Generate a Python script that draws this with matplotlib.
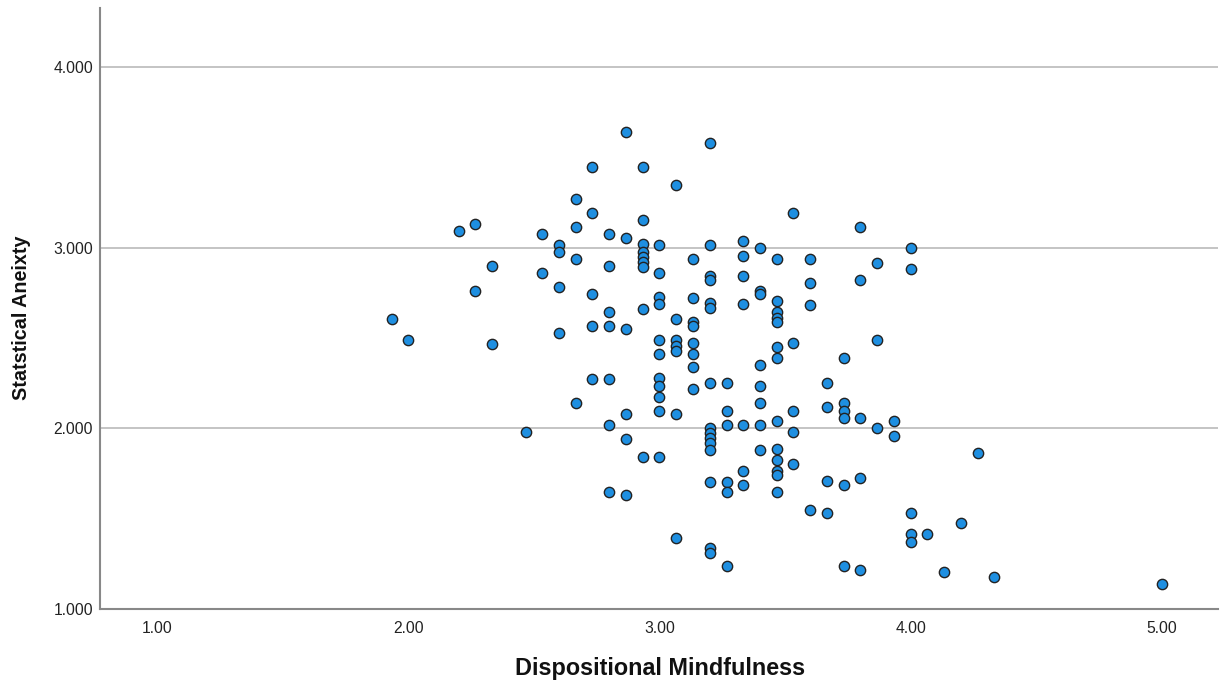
import numpy as np
import matplotlib
matplotlib.use("Agg")
import matplotlib.pyplot as plt

plt.rcParams['font.family'] = ['Liberation Sans', 'DejaVu Sans']

# ---------------- data (one list per x column) ----------------
columns = [1.933, 2.0, 2.2, 2.267, 2.333, 2.467, 2.533, 2.6, 2.667, 2.733, 2.8,
           2.867, 2.933, 3.0, 3.067, 3.133, 3.2, 3.267, 3.333, 3.4, 3.467, 3.533,
           3.6, 3.667, 3.733, 3.8, 3.867, 3.933, 4.0, 4.067, 4.133, 4.2, 4.267,
           4.333, 5.0]

anxiety = [
    [2.604],
    [2.489],
    [3.094],
    [3.131, 2.760],
    [2.899, 2.467],
    [1.981],
    [3.074, 2.858],
    [3.015, 2.978, 2.781, 2.529],
    [3.270, 3.115, 2.937, 2.138],
    [3.445, 3.192, 2.744, 2.566, 2.273],
    [3.074, 2.900, 2.646, 2.566, 2.273, 2.018, 1.646],
    [3.641, 3.055, 2.548, 2.079, 1.941, 1.628],
    [3.445, 3.153, 3.019, 2.978, 2.950, 2.922, 2.895, 2.662, 1.843],
    [3.015, 2.858, 2.725, 2.687, 2.489, 2.410, 2.277, 2.234, 2.175, 2.097, 1.843],
    [3.349, 2.605, 2.489, 2.456, 2.430, 2.079, 1.391],
    [2.937, 2.723, 2.590, 2.566, 2.471, 2.410, 2.341, 2.216],
    [3.581, 3.015, 2.845, 2.821, 2.692, 2.664, 2.252, 2.000, 1.972, 1.945,
     1.917, 1.880, 1.704, 1.336, 1.311],
    [2.252, 2.097, 2.018, 1.704, 1.646, 1.238],
    [3.037, 2.956, 2.843, 2.687, 2.018, 1.765, 1.686],
    [2.996, 2.760, 2.742, 2.350, 2.234, 2.138, 2.018, 1.880],
    [2.937, 2.705, 2.646, 2.609, 2.587, 2.449, 2.391, 2.039, 1.884, 1.825,
     1.765, 1.742, 1.647],
    [3.190, 2.471, 2.097, 1.981, 1.804],
    [2.937, 2.803, 2.683, 1.549],
    [2.252, 2.116, 1.707, 1.529],
    [2.391, 2.138, 2.097, 2.057, 1.686, 1.238],
    [3.113, 2.821, 2.057, 1.725, 1.218],
    [2.917, 2.489, 2.000],
    [2.039, 1.959],
    [2.996, 2.880, 1.529, 1.415, 1.372],
    [1.415],
    [1.202],
    [1.474],
    [1.863],
    [1.178],
    [1.138],
]

x_ticks = [1.0, 2.0, 3.0, 4.0, 5.0]
x_tick_labels = ["1.00", "2.00", "3.00", "4.00", "5.00"]
y_ticks = [1.0, 2.0, 3.0, 4.0]
y_tick_labels = ["1.000", "2.000", "3.000", "4.000"]

mind = []
anx = []
for xv, ys in zip(columns, anxiety):
    for yv in ys:
        mind.append(xv)
        anx.append(yv)
mind = np.array(mind)
anx = np.array(anx)

# ---------------- plot ----------------
fig = plt.figure(figsize=(12.21, 6.85), dpi=100)
ax = fig.add_axes([0.0819, 0.1111, 0.9157, 0.8772])

ax.scatter(mind, anx, s=55, c='#1E8FE1', edgecolors='#222222', linewidths=1.0, zorder=3)

ax.set_xlim(0.772, 5.2245)
ax.set_ylim(1.0, 4.327)

ax.set_xticks(x_ticks)
ax.set_xticklabels(x_tick_labels)
ax.set_yticks(y_ticks)
ax.set_yticklabels(y_tick_labels)
ax.tick_params(axis='both', length=0, labelsize=11.3, colors='#222222')
ax.tick_params(axis='x', pad=9)
ax.tick_params(axis='y', pad=5)

ax.yaxis.grid(True, color='#C4C4C4', linewidth=1.4)
ax.set_axisbelow(True)

for side in ['top', 'right']:
    ax.spines[side].set_visible(False)
for side in ['left', 'bottom']:
    ax.spines[side].set_color('#888888')
    ax.spines[side].set_linewidth(1.5)

# axis titles placed like the SPSS output
fig.text(0.5405, 0.024, 'Dispositional Mindfulness', fontsize=16.8, fontweight='bold',
         color='#111111', ha='center', va='center')
fig.text(0.0172, 0.5365, 'Statstical Aneixty', fontsize=14.2, fontweight='bold',
         color='#111111', ha='center', va='center', rotation=90)

fig.savefig('out.png', dpi=100)
plt.close(fig)
